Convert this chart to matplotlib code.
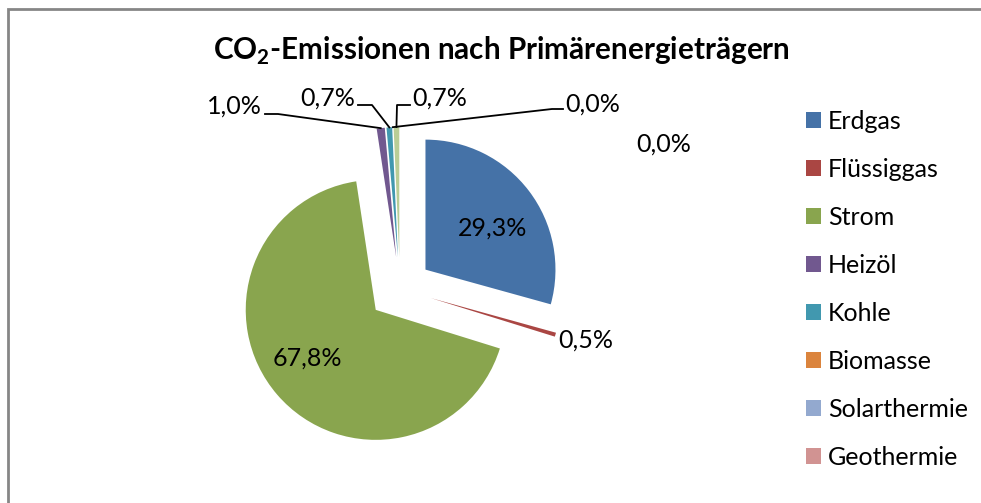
import matplotlib
matplotlib.use("Agg")
import matplotlib.pyplot as plt
import numpy as np
from matplotlib.lines import Line2D
from matplotlib.patches import Patch, Rectangle

plt.rcParams['font.family'] = ['Lato', 'DejaVu Sans']
plt.rcParams['mathtext.fontset'] = 'custom'
plt.rcParams['mathtext.rm'] = 'Lato'
plt.rcParams['mathtext.bf'] = 'Lato:bold'

# data (shares in %), the 9th slice has no visible legend entry
categories = ['Erdgas', 'Flüssiggas', 'Strom', 'Heizöl', 'Kohle',
              'Biomasse', 'Solarthermie', 'Geothermie', '']
shares = [29.3, 0.5, 67.8, 1.0, 0.7, 0.0, 0.0, 0.0, 0.7]
colors = ['#4572A7', '#AA4643', '#89A54E', '#71588F', '#4198AF',
          '#DB843D', '#93A9CF', '#D19392', '#B9CD96']

W, H = 981, 503
fig = plt.figure(figsize=(W / 100, H / 100), dpi=100)
ax = fig.add_axes([0, 0, 1, 1])

wedges, _ = ax.pie(shares, colors=colors, startangle=90, counterclock=False,
                   radius=130, center=(400, H - 289), explode=[32] * len(shares),
                   wedgeprops=dict(linewidth=0))
ax.set_xlim(0, W)
ax.set_ylim(0, H)
ax.set_aspect('equal')
ax.axis('off')

def pct(v):
    return f"{v:.1f}".replace('.', ',') + '%'

def rim(w):
    # point on the outer arc, middle of the wedge
    a = np.deg2rad((w.theta1 + w.theta2) / 2)
    return w.center[0] + w.r * np.cos(a), w.center[1] + w.r * np.sin(a)

fs = 18
# label layout in pixels from top: (x, y, ha, leader anchor, elbow)
layout = {
    0: (493, 228, 'center', None, None),
    1: (558, 340, 'left', None, None),
    2: (307, 358, 'center', None, None),
    3: (262, 106, 'right', (265, 114), (278, 114)),
    4: (355, 98, 'right', (358, 105), (372, 105)),
    5: (565, 104, 'left', (563, 109), (552, 109)),
    6: (636, 144, 'left', None, None),
    8: (412, 98, 'left', (410, 105), (397, 105)),
}
for i, (x, y, ha, anchor, elbow) in layout.items():
    ax.text(x, H - y, pct(shares[i]), ha=ha, va='center', fontsize=fs, color='black')
    if anchor is not None:
        px, py = rim(wedges[i])
        ax.add_line(Line2D([anchor[0], elbow[0], px], [H - anchor[1], H - elbow[1], py],
                           color='black', lw=1.3))

fig.text(501 / W, 1 - 51 / H, r'CO$_\mathbf{2}$-Emissionen nach Primärenergieträgern',
         ha='center', va='center', fontsize=21.3, fontweight='bold')

handles = [Patch(facecolor=c, edgecolor='none') for c in colors[:8]]
ax.legend(handles, categories[:8], loc='upper left', bbox_to_anchor=(806 / W, 1 - 110 / H),
          frameon=False, fontsize=fs, handlelength=0.6, handleheight=0.6,
          handletextpad=0.28, labelspacing=1.0, borderpad=0, borderaxespad=0)

# chart border: right and bottom edges lie outside the picture
ax.add_patch(Rectangle((7.5, -20), W + 40, H - 8.5 + 20, fill=False,
                       edgecolor='#868686', lw=2, clip_on=False))

fig.savefig('out.png', dpi=100)
